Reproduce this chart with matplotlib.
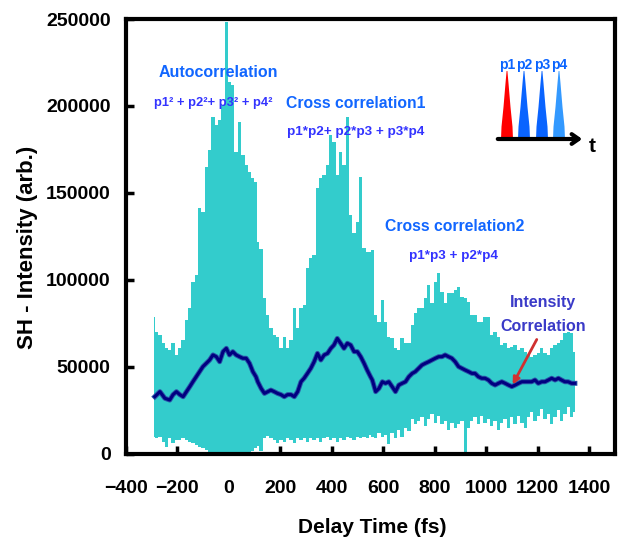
import matplotlib
matplotlib.use('Agg')
import matplotlib.pyplot as plt
import numpy as np

plt.rcParams['font.family'] = ['Liberation Sans', 'DejaVu Sans']
plt.rcParams['font.weight'] = 'bold'

# raw SH signal, read as top / bottom of the cyan band
x_sig = [-292, -281, -268, -255, -243, -230, -217, -204, -191, -178,
         -165, -152, -140, -127, -114, -101, -88, -75, -62, -49,
         -36, -23, -10, 2, 15, 28, 41, 54, 67, 80,
         93, 105, 112, 125, 138, 151, 163, 176, 189, 202,
         215, 228, 241, 254, 267, 280, 292, 305, 318, 331,
         344, 357, 370, 383, 396, 408, 421, 434, 447, 460,
         473, 486, 499, 512, 525, 537, 550, 557, 570, 583,
         596, 608, 621, 634, 647, 660, 673, 686, 699, 712,
         724, 737, 750, 763, 776, 789, 802, 815, 828, 840,
         853, 866, 879, 892, 905, 918, 931, 944, 956, 969,
         982, 995, 1008, 1021, 1034, 1047, 1060, 1073, 1086, 1099,
         1112, 1125, 1138, 1151, 1164, 1176, 1189, 1202, 1215, 1228,
         1241, 1254, 1267, 1280, 1292, 1305, 1318, 1331, 1344]
sig_top = [78900, 70300, 68400, 63600, 60700, 59700, 63600, 56900, 60700, 65500,
           77000, 83700, 99000, 102900, 141200, 139300, 165100, 174700, 193900, 189100,
           192000, 200600, 248100, 214000, 212000, 173700, 191000, 171800, 166100, 162300,
           158400, 156500, 122000, 118000, 89400, 79900, 72200, 68400, 67400, 60700,
           67400, 60700, 65500, 83700, 72200, 83700, 85600, 106700, 112400, 114400,
           152700, 158400, 160300, 166100, 183300, 179500, 160300, 173700, 166100, 193900,
           137300, 126800, 133500, 159400, 118200, 116300, 116300, 117200, 79900, 76000,
           88500, 76000, 67400, 66400, 60700, 59700, 66400, 63600, 63600, 74100,
           80800, 83700, 83700, 89400, 97100, 86600, 99000, 103800, 93300, 86600,
           92300, 92300, 94200, 96200, 90400, 89400, 87500, 79900, 79900, 76000,
           76000, 78900, 78900, 68400, 70300, 67400, 62600, 63600, 60700, 61700,
           62600, 59700, 60700, 58800, 56900, 55900, 56900, 57800, 60700, 57800,
           56900, 60700, 62600, 63600, 65500, 69300, 70300, 69300, 58800]
sig_bottom = [10000, 9000, 10000, 7100, 4200, 9000, 6100, 8000, 8000, 9000,
              8000, 7100, 6100, 5100, 4200, 3200, 2300, 1200, 500, 0,
              0, 0, 0, 0, 0, 0, 0, 0, 300, 800,
              1500, 3200, 4500, 1500, 9000, 10500, 9000, 8000, 6100, 8000,
              7100, 9000, 8000, 6100, 9000, 8000, 9000, 7100, 9000, 8000,
              9000, 7100, 9000, 10000, 8000, 9000, 7100, 9000, 8000, 10000,
              9000, 8000, 10000, 9000, 10000, 9000, 11000, 10000, 9000, 12000,
              10000, 11000, 6000, 12000, 9000, 14000, 10000, 15000, 13000, 20000,
              17000, 19000, 21000, 16000, 20000, 23000, 18000, 22000, 17000, 19000,
              14000, 18000, 15000, 17000, 19000, 0, 15000, 19000, 21000, 17000,
              22000, 18000, 20000, 16000, 19000, 14000, 18000, 20000, 15000, 21000,
              17000, 22000, 18000, 15000, 21000, 24000, 19000, 22000, 26000, 20000,
              23000, 17000, 21000, 25000, 19000, 23000, 27000, 21000, 24000]

# averaged trace (intensity correlation)
x_avg = [-288, -268, -249, -230, -217, -204, -191, -178, -165, -152,
         -140, -127, -114, -101, -88, -75, -62, -49, -36, -23,
         -10, 2, 15, 28, 41, 54, 67, 80, 93, 105,
         112, 125, 138, 151, 163, 176, 189, 202, 215, 228,
         241, 254, 267, 280, 292, 305, 318, 331, 344, 357,
         370, 383, 396, 408, 421, 434, 447, 460, 473, 486,
         499, 512, 525, 537, 550, 557, 570, 583, 596, 608,
         621, 634, 647, 660, 673, 686, 699, 712, 724, 737,
         750, 763, 776, 789, 802, 815, 828, 840, 853, 866,
         879, 892, 905, 918, 931, 944, 956, 969, 982, 995,
         1008, 1021, 1034, 1047, 1060, 1073, 1086, 1099, 1112, 1125,
         1138, 1151, 1164, 1176, 1189, 1202, 1215, 1228, 1241, 1254,
         1267, 1280, 1292, 1305, 1318, 1331, 1344]
avg = [32900, 35800, 32000, 31000, 34100, 35800, 34100, 32900, 35800, 38700,
       41500, 44400, 47300, 50200, 52100, 54000, 56900, 55900, 53000, 58800,
       60700, 56900, 58800, 56900, 55900, 55000, 55000, 52100, 47300, 44400,
       41500, 37700, 34800, 35800, 36700, 35800, 34800, 34100, 32900, 34100,
       34100, 32900, 35800, 41500, 43500, 46300, 49200, 53000, 57800, 54000,
       56900, 57800, 60700, 62600, 66400, 63600, 60700, 63600, 62600, 58800,
       58800, 55900, 52100, 48200, 44400, 42500, 35800, 37700, 41500, 40600,
       41500, 38700, 35800, 39600, 40600, 41500, 44400, 46300, 47300, 49200,
       51100, 52100, 53000, 54000, 55000, 55900, 55900, 56900, 55900, 55000,
       53000, 50200, 49200, 48200, 47300, 46300, 46300, 44400, 43500, 43500,
       42500, 40600, 39600, 40600, 41500, 40600, 39600, 38700, 39600, 40600,
       41500, 41500, 41500, 41500, 42500, 40600, 41500, 41500, 42500, 43500,
       42500, 43500, 42500, 41500, 41500, 40600, 40600]

# inset pulse sketch
pulse_labels = ['p1', 'p2', 'p3', 'p4']
pulse_pos = [17, 34, 52, 69]
pulse_colors = ['#FF0000', '#0A64FF', '#0A64FF', '#3399FF']
pulse_dx = [-6, -5.5, -3.5, -1.5, -0.4, 0.4, 1.5, 3.5, 5.5, 6]
pulse_rel = [0, 0.18, 0.47, 0.82, 1, 1, 0.82, 0.47, 0.18, 0]

fig = plt.figure(figsize=(6.23, 5.43), dpi=100)
ax = fig.add_axes([0.2022, 0.164, 0.785, 0.801])

ax.fill_between(x_sig, sig_bottom, sig_top, step='mid', color='#33CCCC', lw=0, zorder=1)
ax.plot(x_avg, avg, color='#2B55A8', lw=3.6, zorder=3)
ax.plot(x_avg, avg, color='#000080', lw=2.2, zorder=3)

ax.set_xlim(-400, 1500)
ax.set_ylim(0, 250000)
ax.set_xticks(np.arange(-400, 1401, 200))
ax.set_yticks(np.arange(0, 250001, 50000))
ax.set_axisbelow(True)
ax.tick_params(direction='in', length=6, width=2.5, labelsize=14)
ax.tick_params(axis='x', pad=19)
ax.tick_params(axis='y', pad=11)
for sp in ax.spines.values():
    sp.set_linewidth(3)

ax.set_xlabel('Delay Time (fs)', fontsize=15, fontweight='bold')
ax.set_ylabel('SH - Intensity (arb.)', fontsize=16, fontweight='bold')
ax.xaxis.set_label_coords(0.503, -0.147)
ax.yaxis.set_label_coords(-0.18, 0.474)

c1 = '#1166FF'
c2 = '#3333FF'
ax.text(-42, 219500, 'Autocorrelation', color=c1, fontsize=11.5, ha='center', va='center')
ax.text(-62, 201700, 'p1² + p2²+ p3² + p4²', color=c2, fontsize=9.3, ha='center', va='center')
ax.text(492, 201700, 'Cross correlation1', color=c1, fontsize=11.3, ha='center', va='center')
ax.text(492, 185000, 'p1*p2+ p2*p3 + p3*p4', color=c2, fontsize=9.7, ha='center', va='center')
ax.text(877, 131000, 'Cross correlation2', color=c1, fontsize=11.3, ha='center', va='center')
ax.text(873, 113800, 'p1*p3 + p2*p4', color=c2, fontsize=9.7, ha='center', va='center')
ax.text(1221, 86800, 'Intensity', color='#3A3AC8', fontsize=11.5, ha='center', va='center')
ax.text(1221, 73000, 'Correlation', color='#3A3AC8', fontsize=11.5, ha='center', va='center')
ax.annotate('', xy=(1097, 38500), xytext=(1201, 67200),
            arrowprops=dict(arrowstyle='-|>', color='#D03030', lw=2, mutation_scale=10), zorder=4)

# inset: four pulses on a time axis
ax_in = fig.add_axes([490 / 623, 1 - 150 / 543, 115 / 623, 95 / 543])
ax_in.set_xlim(0, 115)
ax_in.set_ylim(0, 95)
ax_in.axis('off')
base, height = 11, 68
for lbl, c, col in zip(pulse_labels, pulse_pos, pulse_colors):
    ax_in.fill([c + d for d in pulse_dx], [base + r * height for r in pulse_rel], color=col, lw=0)
    ax_in.text(c, 85, lbl, color='#0A64FF', fontsize=10, ha='center', va='center')
ax_in.annotate('', xy=(95, base), xytext=(5, base),
               arrowprops=dict(arrowstyle='->,head_length=0.5,head_width=0.35', lw=3, color='black'))
ax_in.text(102, 4, 't', fontsize=15, ha='center', va='center', color='black')

fig.savefig('out.png', dpi=100, facecolor='white')
